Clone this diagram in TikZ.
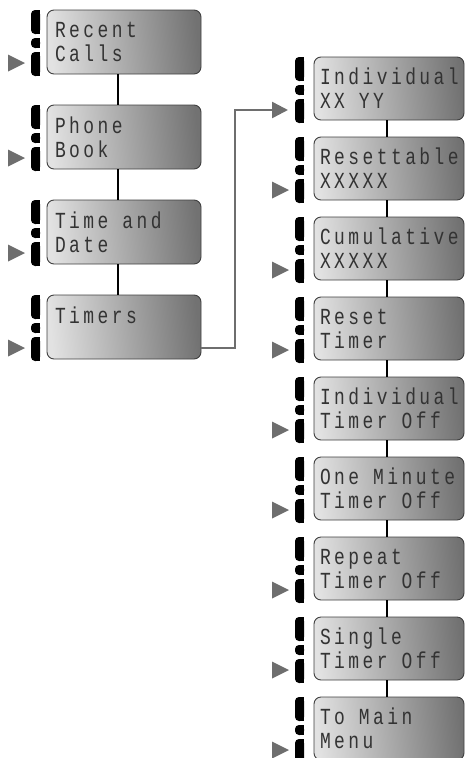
\documentclass[tikz,border=0pt]{standalone}
\usepackage{fontspec}
\newfontfamily\lcdfont{Liberation Mono}[FakeStretch=0.78,LetterSpace=15]
\usetikzlibrary{calc, positioning, arrows.meta}

\definecolor{lcdlight}{HTML}{E2E2E2}
\definecolor{lcddark}{HTML}{727272}
\definecolor{keygray}{HTML}{6E6E6E}

\newcommand{\lcdtext}{\lcdfont\fontsize{23}{24}\selectfont\hyphenpenalty=10000\relax}
% one empty character cell of the display
\newcommand{\lcdgap}{\nobreak\hspace{14pt}\nobreak}

% one key of the strip left of a display
\newcommand{\keyblob}[4]{%
    \fill[rounded corners=4pt] ($(#1.north west)+(-#2-9,-#3)$) rectangle ($(#1.north west)+(-#2,-#4)$);
    \fill ($(#1.north west)+(-#2-5,-#3)$) rectangle ($(#1.north west)+(-#2,-#4)$);
}
\newcommand{\softkeys}[2]{%
    \keyblob{#1}{#2}{0}{24}\keyblob{#1}{#2}{28}{38}\keyblob{#1}{#2}{42}{66}%
}
\newcommand{\pointer}[2]{%
    \fill[keygray] ($(#1.north west)+(-#2-15,-53)$) -- ++(-17,8.5) -- ++(0,-17) -- cycle;
}

\begin{document}
\begin{tikzpicture}[
        x=1pt, y=1pt,
        lcdbox/.style={
            draw=black!75,
            line width=0.9pt,
            rounded corners=7pt,
            left color=lcdlight,
            right color=lcddark,
            shading angle=95,
            text width=138pt,
            inner xsep=8pt,
            inner ysep=0pt,
            outer sep=0pt,
            minimum height=64pt,
            align=left,
            text=black!80,
            font=\lcdtext
        },
        subbox/.style={lcdbox, inner xsep=6pt, minimum height=63pt},
        link/.style={line width=1.8pt, black},
        feed/.style={keygray, line width=2.5pt, -{Triangle[length=16pt,width=16pt]}}
    ]
    \useasboundingbox (0,0) rectangle (467,-758);

    % Main menu
    \node[lcdbox, anchor=north west] (recent) at (47,-10) {Recent\\Calls};
    \node[lcdbox, below=31pt of recent] (phone) {Phone\\Book};
    \node[lcdbox, below=31pt of phone] (time) {Time\lcdgap and\\Date};
    \node[lcdbox, below=31pt of time] (timers) {Timers\\~};

    % Timers menu
    \node[subbox, anchor=north west] (indiv) at (314,-57) {Individual\\XX\lcdgap YY};
    \node[subbox, below=17pt of indiv] (resettable) {Resettable\\XXXXX};
    \node[subbox, below=17pt of resettable] (cumul) {Cumulative\\XXXXX};
    \node[subbox, below=17pt of cumul] (resettimer) {Reset\\Timer};
    \node[subbox, below=17pt of resettimer] (indoff) {Individual\\Timer\lcdgap Off};
    \node[subbox, below=17pt of indoff] (minoff) {One\lcdgap Minute\\Timer\lcdgap Off};
    \node[subbox, below=17pt of minoff] (repoff) {Repeat\\Timer\lcdgap Off};
    \node[subbox, below=17pt of repoff] (singoff) {Single\\Timer\lcdgap Off};
    \node[subbox, below=17pt of singoff] (tomain) {To\lcdgap Main\\Menu};

    % Keys
    \foreach \n in {recent, phone, time, timers} {
        \softkeys{\n}{7}
        \pointer{\n}{7}
    }
    \softkeys{indiv}{10}
    \foreach \n in {resettable, cumul, resettimer, indoff, minoff, repoff, singoff, tomain} {
        \softkeys{\n}{10}
        \pointer{\n}{10}
    }

    % Links
    \foreach \a/\b in {recent/phone, phone/time, time/timers}
        \draw[link] ([xshift=-6pt]\a.south) -- ([xshift=-6pt]\b.north);
    \foreach \a/\b in {indiv/resettable, resettable/cumul, cumul/resettimer, resettimer/indoff,
                       indoff/minoff, minoff/repoff, repoff/singoff, singoff/tomain}
        \draw[link] ([xshift=-2pt]\a.south) -- ([xshift=-2pt]\b.north);

    \coordinate (indkey) at ($(indiv.north west)+(-26,-53)$);
    \draw[feed] ($(timers.north east)+(0,-53)$) -- ++(34,0) |- (indkey);

\end{tikzpicture}
\end{document}
